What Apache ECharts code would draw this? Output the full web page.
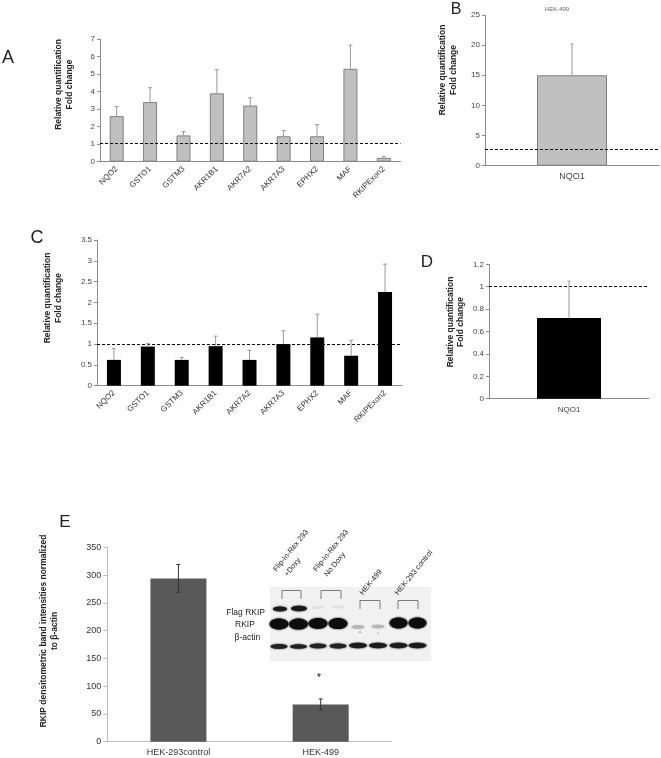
<!DOCTYPE html>
<html><head><meta charset="utf-8">
<script src="https://cdn.jsdelivr.net/npm/echarts@6/dist/echarts.min.js"></script>
<style>html,body{margin:0;padding:0;background:#fff}#c{width:661px;height:758px}</style>
</head><body><div id="c"></div>
<script>
// ---- data ----
const genesAC = ['NQO2','GSTO1','GSTM3','AKR1B1','AKR7A2','AKR7A3','EPHX2','MAF','RKIPExon2'];
const valsA = [2.6, 3.4, 1.5, 3.9, 3.2, 1.45, 1.45, 5.3, 0.22];
const errA  = [0.55, 0.82, 0.22, 1.35, 0.45, 0.33, 0.67, 1.35, 0.08];
const refA  = 1.05;

const catsB = ['NQO1'];
const valsB = [15.0];
const errB  = [5.2];
const refB  = 2.7;

const valsC = [0.62, 0.94, 0.62, 0.95, 0.62, 1.0, 1.16, 0.72, 2.25];
const errC  = [0.27, 0.07, 0.06, 0.24, 0.23, 0.32, 0.56, 0.37, 0.67];
const refC  = 1;

const catsD = ['NQO1'];
const valsD = [0.72];
const errD  = [0.33];
const refD  = 1;

const catsE = ['HEK-293control', 'HEK-499'];
const valsE = [294, 67];
const errE  = [25, 10];

const yTitleQ = 'Relative quantification\nFold change';
const yTitleE = 'RKIP densitometric band intensities normalized\nto \u03b2-actin';
const blotLanes = ['Flip-In-Rex 293', '+Doxy', 'Flip-In-Rex 293', 'No Doxy', 'HEK-499', 'HEK-293 control'];
const blotRows = ['Flag RKIP', 'RKIP', '\u03b2-actin'];

// ---- helpers ----
const FONT = '"Liberation Sans", Arial, sans-serif';
function errSeries(xi, yi, vals, errs, color, cap, both) {
  return {
    type: 'custom', xAxisIndex: xi, yAxisIndex: yi, z: 5, silent: true,
    data: vals.map((v, i) => [i, v, errs[i]]),
    encode: { x: 0, y: 1 },
    renderItem: function (params, api) {
      const i = api.value(0), v = api.value(1), e = api.value(2);
      const top = api.coord([i, v + e]);
      const bot = api.coord([i, both ? v - e : v]);
      const st = { stroke: color, lineWidth: 1 };
      const ch = [
        { type: 'line', shape: { x1: top[0], y1: top[1], x2: bot[0], y2: bot[1] }, style: st },
        { type: 'line', shape: { x1: top[0] - cap, y1: top[1], x2: top[0] + cap, y2: top[1] }, style: st }
      ];
      if (both) ch.push({ type: 'line', shape: { x1: bot[0] - cap, y1: bot[1], x2: bot[0] + cap, y2: bot[1] }, style: st });
      return { type: 'group', children: ch };
    }
  };
}
function mline(v) {
  return { silent: true, symbol: 'none', label: { show: false },
    lineStyle: { type: [3, 2], color: '#000', width: 1 }, data: [{ yAxis: v }] };
}
function xAx(gi, cats, opts) {
  return Object.assign({
    type: 'category', gridIndex: gi, data: cats,
    axisLine: { lineStyle: { color: '#8c8c8c' } },
    axisTick: { length: 3, lineStyle: { color: '#8c8c8c' } },
    axisLabel: { fontSize: 8, color: '#333', fontFamily: FONT, margin: 6 },
    splitLine: { show: false }
  }, opts || {});
}
function yAx(gi, max, interval, opts) {
  return Object.assign({
    type: 'value', gridIndex: gi, min: 0, max: max, interval: interval,
    axisLine: { show: true, lineStyle: { color: '#8c8c8c' } },
    axisTick: { show: true, length: 3, lineStyle: { color: '#8c8c8c' } },
    axisLabel: { fontSize: 8, color: '#444', fontFamily: FONT, margin: 5 },
    splitLine: { show: false }
  }, opts || {});
}
function txt(x, y, text, size, opts) {
  const o = opts || {};
  return { type: 'text', x: x, y: y, rotation: o.rot || 0, silent: true, z: 20,
    style: { text: text, fill: o.color || '#222', fontSize: size, fontFamily: FONT,
      fontWeight: o.bold ? 'bold' : 'normal', textAlign: o.align || 'center',
      textVerticalAlign: o.va || 'middle', lineHeight: o.lh || size * 1.2 } };
}
function band(cx, cy, rx, ry, fill, blur) {
  return { type: 'ellipse', silent: true, z: 12, shape: { cx: cx, cy: cy, rx: rx, ry: ry },
    style: { fill: fill, shadowBlur: blur == null ? 2 : blur, shadowColor: fill } };
}
function bracket(x1, x2, yTop, yBot) {
  return { type: 'polyline', silent: true, z: 12,
    shape: { points: [[x1, yBot], [x1, yTop], [x2, yTop], [x2, yBot]] },
    style: { stroke: '#7a7a7a', lineWidth: 1, fill: null } };
}

const R = 51 * Math.PI / 180;

const graphics = [
  txt(8, 58, 'A', 18), txt(456, 10, 'B', 16), txt(37, 238, 'C', 18), txt(427, 262, 'D', 17), txt(65, 522, 'E', 17),
  txt(64, 84.5, yTitleQ, 8.5, { bold: true, rot: Math.PI / 2, lh: 10.5 }),
  txt(448, 70, yTitleQ, 8.5, { bold: true, rot: Math.PI / 2, lh: 10.5 }),
  txt(53, 298, yTitleQ, 8.5, { bold: true, rot: Math.PI / 2, lh: 10.5 }),
  txt(455.5, 322, yTitleQ, 8.5, { bold: true, rot: Math.PI / 2, lh: 10.5 }),
  txt(49.5, 631, yTitleE, 8.5, { bold: true, rot: Math.PI / 2, lh: 11 }),
  txt(557, 9, 'HEK-499', 6, { color: '#666' }),
  txt(319, 678, '*', 11),
  // blot background
  { type: 'rect', silent: true, z: 11, shape: { x: 270, y: 587, width: 161, height: 74 }, style: { fill: '#f1f1f1' } },
  // Flag RKIP row
  band(280, 609, 7, 2.4, '#1a1a1a'), band(299, 608.5, 8, 2.8, '#1a1a1a'),
  band(318, 607.5, 6, 1.4, '#e0e0e0', 1), band(338, 607, 6, 1.4, '#e0e0e0', 1),
  // RKIP row
  band(279, 624, 9.5, 5.5, '#0d0d0d'), band(298.5, 624, 9.5, 5.6, '#0d0d0d'),
  band(318, 623.5, 9.5, 5.4, '#0d0d0d'), band(338, 623.5, 9.5, 5.6, '#0d0d0d'),
  band(358, 627, 6.5, 1.8, '#b5b5b5', 1.5), band(378, 626.5, 6.5, 1.8, '#b5b5b5', 1.5),
  band(398.5, 623, 9, 5.5, '#0d0d0d'), band(417.5, 623, 9, 5.5, '#0d0d0d'),
  // specks
  band(360, 632, 1, 0.6, '#555', 0), band(378, 633, 0.8, 0.5, '#777', 0),
  // beta-actin row
  band(279, 646.5, 8.5, 2.4, '#222'), band(298.5, 646.5, 8.5, 2.3, '#222'),
  band(318, 646, 8.5, 2.4, '#222'), band(338, 646, 8.5, 2.5, '#222'),
  band(358, 645.5, 9, 2.8, '#1a1a1a'), band(378, 645.5, 9, 2.8, '#1a1a1a'),
  band(398.5, 645.5, 9, 2.8, '#1a1a1a'), band(417.5, 645.5, 9, 2.8, '#1a1a1a'),
  // brackets
  bracket(282, 301, 590.5, 599), bracket(321, 341, 590.5, 599),
  bracket(360, 380, 600.5, 609), bracket(398, 418, 600.5, 609),
  // lane labels
  txt(278.3, 573.5, blotLanes[0], 7.5, { rot: R, align: 'left', va: 'bottom' }),
  txt(289.3, 578.5, blotLanes[1], 7.5, { rot: R, align: 'left', va: 'bottom' }),
  txt(318.3, 573.5, blotLanes[2], 7.5, { rot: R, align: 'left', va: 'bottom' }),
  txt(329.3, 578.5, blotLanes[3], 7.5, { rot: R, align: 'left', va: 'bottom' }),
  txt(365, 597, blotLanes[4], 7.5, { rot: R, align: 'left', va: 'bottom' }),
  txt(400, 597, blotLanes[5], 7.5, { rot: R, align: 'left', va: 'bottom' }),
  // row labels
  txt(265, 613, blotRows[0], 8.5, { align: 'right' }),
  txt(235, 624.5, blotRows[1], 8.5, { align: 'left' }),
  txt(234.5, 638, blotRows[2], 8.5, { align: 'left' })
];

const option = {
  animation: false,
  backgroundColor: '#fff',
  textStyle: { fontFamily: FONT },
  grid: [
    { left: 100, top: 39, width: 300.5, height: 122.7 },
    { left: 485, top: 15, width: 174, height: 150.7 },
    { left: 97, top: 240, width: 305, height: 145.7 },
    { left: 489, top: 264.3, width: 160, height: 134.4 },
    { left: 107.3, top: 547.3, width: 284.5, height: 194.4 }
  ],
  xAxis: [
    xAx(0, genesAC, { axisLabel: { fontSize: 8, color: '#333', fontFamily: FONT, rotate: 45, margin: 6, interval: 0 } }),
    xAx(1, catsB, { axisLabel: { fontSize: 9, color: '#444', fontFamily: FONT, margin: 6 } }),
    xAx(2, genesAC, { axisLabel: { fontSize: 8, color: '#333', fontFamily: FONT, rotate: 45, margin: 6, interval: 0 } }),
    xAx(3, catsD, { axisLabel: { fontSize: 8, color: '#444', fontFamily: FONT, margin: 7 } }),
    xAx(4, catsE, { axisLine: { lineStyle: { color: '#bdbdbd' } }, axisTick: { length: 4, lineStyle: { color: '#bdbdbd' } },
      axisLabel: { fontSize: 9, color: '#333', fontFamily: FONT, margin: 6 } })
  ],
  yAxis: [
    yAx(0, 7, 1),
    yAx(1, 25, 5),
    yAx(2, 3.5, 0.5),
    yAx(3, 1.2, 0.2),
    yAx(4, 350, 50, { axisLine: { show: true, lineStyle: { color: '#bdbdbd' } }, axisTick: { show: true, length: 4, lineStyle: { color: '#bdbdbd' } },
      axisLabel: { fontSize: 9, color: '#333', fontFamily: FONT, margin: 6 } })
  ],
  series: [
    { type: 'bar', xAxisIndex: 0, yAxisIndex: 0, data: valsA, barWidth: 14,
      itemStyle: { color: '#c0c0c0', borderColor: '#7f7f7f', borderWidth: 1 }, markLine: mline(refA), silent: true },
    errSeries(0, 0, valsA, errA, '#999', 2, false),
    { type: 'bar', xAxisIndex: 1, yAxisIndex: 1, data: valsB, barWidth: 70,
      itemStyle: { color: '#c0c0c0', borderColor: '#7f7f7f', borderWidth: 1 }, markLine: mline(refB), silent: true },
    errSeries(1, 1, valsB, errB, '#999', 1.5, false),
    { type: 'bar', xAxisIndex: 2, yAxisIndex: 2, data: valsC, barWidth: 14,
      itemStyle: { color: '#000' }, markLine: mline(refC), silent: true },
    errSeries(2, 2, valsC, errC, '#999', 2, false),
    { type: 'bar', xAxisIndex: 3, yAxisIndex: 3, data: valsD, barWidth: 64,
      itemStyle: { color: '#000' }, markLine: mline(refD), silent: true },
    errSeries(3, 3, valsD, errD, '#999', 1.5, false),
    { type: 'bar', xAxisIndex: 4, yAxisIndex: 4, data: valsE, barWidth: 56,
      itemStyle: { color: '#595959' }, silent: true },
    errSeries(4, 4, valsE, errE, '#333', 2, true)
  ],
  graphic: graphics
};
const chart = echarts.init(document.getElementById('c'), null, { renderer: 'canvas' });
chart.setOption(option);
</script>
</body></html>
